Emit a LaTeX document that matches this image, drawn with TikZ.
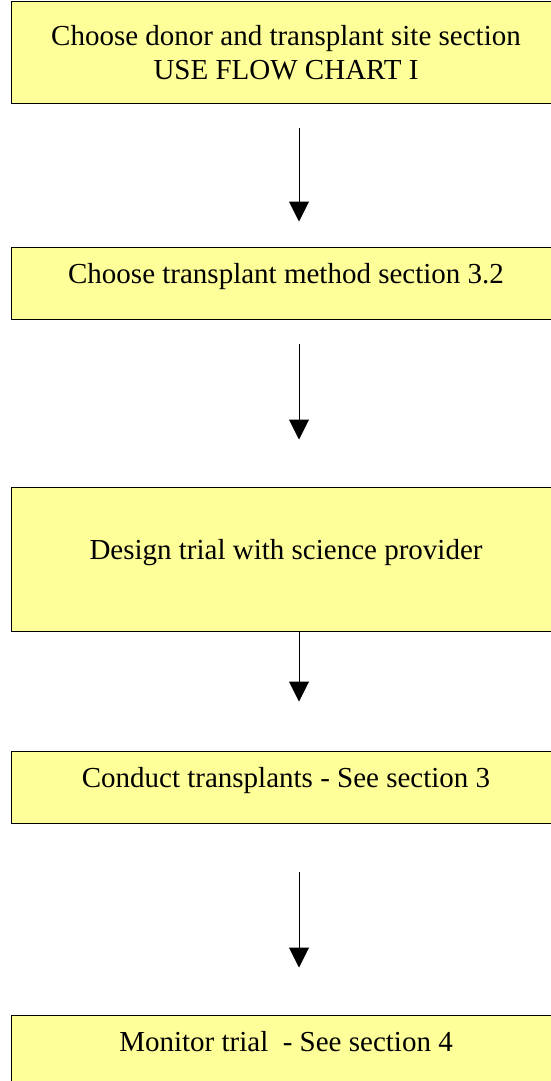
\documentclass[tikz,border=0pt]{standalone}
\usepackage{fontspec}
\setmainfont{Liberation Serif}
\usetikzlibrary{arrows.meta}
\definecolor{stagefill}{RGB}{255,255,153}

\begin{document}
\begin{tikzpicture}[x=1pt,y=-1pt,
    stage/.style={draw=black,line width=1pt,fill=stagefill,minimum width=550pt,
      inner sep=0pt,font=\fontsize{29}{34}\selectfont,align=center},
    lifted/.style={text height=20pt,text depth=20pt},
    flow/.style={line width=1pt,-{Triangle[width=20pt,length=20pt]}}]
     \useasboundingbox (0,0) rectangle (551,1081);
     \node[stage,minimum height=101pt] (donor) at (286,52.5)
          {Choose donor and transplant site section\\USE FLOW CHART I};
     \node[stage,lifted,minimum height=72pt] (method) at (286,283)
          {Choose transplant method section 3.2};
     \node[stage,lifted,minimum height=144pt] (design) at (286,559)
          {Design trial with science provider};
     \node[stage,lifted,minimum height=72pt] (conduct) at (286,787)
          {Conduct transplants - See section 3};
     \node[stage,lifted,minimum height=72pt] (monitor) at (286,1051)
          {Monitor trial \ - See section 4};
     \draw[flow] ([xshift=13pt,yshift=-24pt]donor.south) -- ([xshift=13pt,yshift=25pt]method.north);
     \draw[flow] ([xshift=13pt,yshift=-24pt]method.south) -- ([xshift=13pt,yshift=47pt]design.north);
     \draw[flow] ([xshift=13pt]design.south) -- ([xshift=13pt,yshift=49pt]conduct.north);
     \draw[flow] ([xshift=13pt,yshift=-48pt]conduct.south) -- ([xshift=13pt,yshift=47pt]monitor.north);
    \end{tikzpicture}
\end{document}
